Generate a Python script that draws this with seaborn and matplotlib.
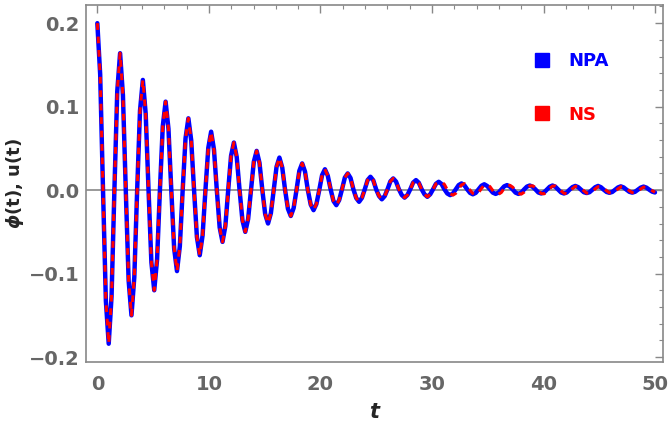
import numpy as np
import pandas as pd
import seaborn as sns
import matplotlib.pyplot as plt
from matplotlib.lines import Line2D
from matplotlib.ticker import MultipleLocator

# time grid: 8 samples per oscillation (period ~2.04)
t = np.round(np.arange(197) * 0.255, 3)

# NPA solution phi(t)
npa = [0.2000, 0.1386, 0.0, -0.1327, -0.1840, -0.1275, 0.0, 0.1182,
       0.1640, 0.1137, 0.0, -0.1082, -0.1500, -0.1040, 0.0, 0.0952,
       0.1320, 0.0915, 0.0, -0.0865, -0.1200, -0.0832, 0.0, 0.0764,
       0.1060, 0.0735, 0.0, -0.0699, -0.0970, -0.0672, 0.0, 0.0620,
       0.0860, 0.0596, 0.0, -0.0562, -0.0780, -0.0541, 0.0, 0.0505,
       0.0700, 0.0485, 0.0, -0.0447, -0.0620, -0.0430, 0.0, 0.0411,
       0.0570, 0.0395, 0.0, -0.0361, -0.0500, -0.0347, 0.0, 0.0339,
       0.0470, 0.0326, 0.0, -0.0288, -0.0400, -0.0277, 0.0, 0.0281,
       0.0390, 0.0270, 0.0, -0.0224, -0.0310, -0.0215, 0.0, 0.0231,
       0.0320, 0.0222, 0.0, -0.0173, -0.0240, -0.0166, 0.0, 0.0180,
       0.0250, 0.0173, 0.0010, -0.0130, -0.0180, -0.0120, 0.0010, 0.0150,
       0.0200, 0.0145, 0.0010, -0.0095, -0.0140, -0.0093, 0.0010, 0.0120,
       0.0160, 0.0117, 0.0010, -0.0070, -0.0110, -0.0072, 0.0010, 0.0105,
       0.0140, 0.0102, 0.0010, -0.0058, -0.0090, -0.0058, 0.0010, 0.0090,
       0.0120, 0.0088, 0.0010, -0.0050, -0.0080, -0.0050, 0.0010, 0.0075,
       0.0100, 0.0073, 0.0010, -0.0040, -0.0060, -0.0040, 0.0010, 0.0060,
       0.0080, 0.0058, 0.0010, -0.0033, -0.0050, -0.0033, 0.0010, 0.0052,
       0.0070, 0.0050, 0.0010, -0.0030, -0.0045, -0.0030, 0.0008, 0.0045,
       0.0060, 0.0043, 0.0008, -0.0030, -0.0045, -0.0030, 0.0008, 0.0042,
       0.0055, 0.0040, 0.0008, -0.0028, -0.0040, -0.0028, 0.0006, 0.0040,
       0.0055, 0.0040, 0.0006, -0.0028, -0.0040, -0.0028, 0.0006, 0.0036,
       0.0050, 0.0036, 0.0006, -0.0025, -0.0035, -0.0025, 0.0005, 0.0035,
       0.0050, 0.0035, 0.0005, -0.0022, -0.0032, -0.0022, 0.0005, 0.0032,
       0.0045, 0.0032, 0.0005, -0.0020, -0.0030, -0.0020, 0.0005, 0.0030,
       0.0042, 0.0030, 0.0005, -0.0018, -0.0028]

# NS solution u(t): same as NPA up to t~30, then drifts a little
ns_tail = [0.0090, 0.0100, 0.0068, 0.0005, -0.0045, -0.0060, -0.0038, 0.0015, 0.0062, 0.0078,
           0.0052, 0.0000, -0.0040, -0.0055, -0.0030, 0.0020, 0.0058, 0.0068, 0.0042, -0.0005,
           -0.0042, -0.0050, -0.0028, 0.0020, 0.0055, 0.0058, 0.0035, -0.0005, -0.0040, -0.0048,
           -0.0025, 0.0020, 0.0050, 0.0052, 0.0030, -0.0008, -0.0040, -0.0045, -0.0022, 0.0018,
           0.0048, 0.0050, 0.0028, -0.0008, -0.0038, -0.0042, -0.0020, 0.0018, 0.0045, 0.0045,
           0.0025, -0.0008, -0.0036, -0.0038, -0.0018, 0.0016, 0.0042, 0.0042, 0.0022, -0.0008,
           -0.0032, -0.0035, -0.0016, 0.0015, 0.0040, 0.0040, 0.0020, -0.0008, -0.0030, -0.0032,
           -0.0014, 0.0014, 0.0036, 0.0036, 0.0018, -0.0006, -0.0026]
ns = npa[:120] + ns_tail

n = min(len(t), len(npa), len(ns))
df = pd.DataFrame({'t': t[:n], 'NPA': npa[:n], 'NS': ns[:n]})

sns.set_style("white")
fig = plt.figure(figsize=(6.68, 4.28), dpi=100)
ax = fig.add_axes([0.129, 0.154, 0.8635, 0.834])

ax.axhline(0, color='#888888', lw=1.2, zorder=1)
sns.lineplot(data=df, x='t', y='NPA', color='blue', lw=3.2, ax=ax, zorder=2,
             solid_joinstyle='round', solid_capstyle='round')
sns.lineplot(data=df, x='t', y='NS', color='red', lw=2.2, ax=ax, zorder=3,
             linestyle=(0, (2.2, 2.2)), dash_joinstyle='round')

ax.set_xlim(-1, 50.7)
ax.set_ylim(-0.206, 0.2216)
ax.xaxis.set_major_locator(MultipleLocator(10))
ax.xaxis.set_minor_locator(MultipleLocator(2))
ax.yaxis.set_major_locator(MultipleLocator(0.1))
ax.yaxis.set_minor_locator(MultipleLocator(0.02))
ax.tick_params(which='both', direction='in', top=True, right=True,
               color='#888888', labelcolor='#666666', labelsize=14)
ax.tick_params(which='major', length=6, width=1)
ax.tick_params(which='minor', length=3, width=0.8)
ax.tick_params(axis='x', pad=9)
ax.tick_params(axis='y', pad=5)
ax.set_yticks(ax.get_yticks())
ax.set_yticklabels([f"{v:.1f}".replace('-', '\u2212') for v in ax.get_yticks()])
for lab in ax.get_xticklabels() + ax.get_yticklabels():
    lab.set_fontweight('bold')
ax.set_ylim(-0.206, 0.2216)
for s in ax.spines.values():
    s.set_color('#888888')
    s.set_linewidth(1.2)

ax.set_xlabel('t', fontsize=15, fontweight='bold', fontstyle='italic', labelpad=6)
ax.set_ylabel(r'$\boldsymbol{\phi}$(t), u(t)', fontsize=13, fontweight='bold', labelpad=2)

handles = [Line2D([], [], ls='', marker='s', ms=10, color='blue'),
           Line2D([], [], ls='', marker='s', ms=10, color='red')]
ax.legend(handles, ['NPA', 'NS'], loc='upper right', bbox_to_anchor=(0.935, 0.913),
          frameon=False, labelcolor='markerfacecolor', labelspacing=1.95,
          handletextpad=0.5, prop={'weight': 'bold', 'size': 13})

fig.savefig('out.png', dpi=100)
